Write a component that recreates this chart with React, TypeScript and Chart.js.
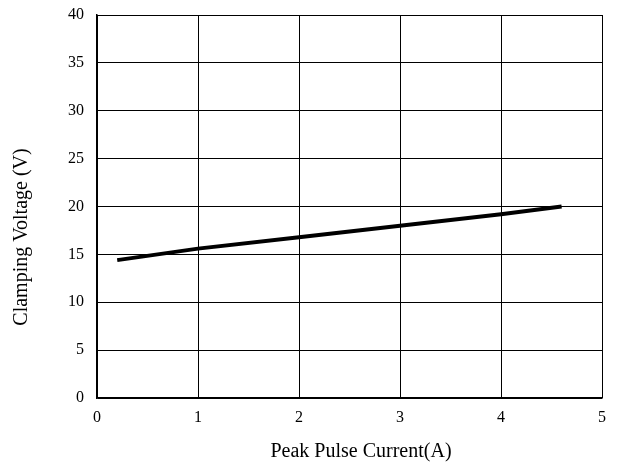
import React, { useEffect, useRef } from "react";
import { Chart, registerables } from "chart.js";

Chart.register(...registerables);

const currentA = [0.2, 1, 2, 3, 4, 4.6];
const clampingV = [14.4, 15.6, 16.8, 18.0, 19.2, 20.0];
const xTitle = "Peak Pulse Current(A)";
const yTitle = "Clamping Voltage (V)";

const family = "'Liberation Serif', 'Times New Roman', serif";

const titlePlugin = {
  id: "axisTitles",
  afterDraw(chart: any) {
    const ctx = chart.ctx;
    ctx.save();
    ctx.fillStyle = "#000";
    ctx.font = `20px ${family}`;
    ctx.textBaseline = "alphabetic";
    ctx.textAlign = "center";
    ctx.fillText(xTitle, 361, 457);
    ctx.translate(27, 237);
    ctx.rotate(-Math.PI / 2);
    ctx.fillText(yTitle, 0, 0);
    ctx.restore();
  },
};

export default function App() {
  const ref = useRef<HTMLCanvasElement | null>(null);
  useEffect(() => {
    if (!ref.current) return;
    const tickFont = { family, size: 16 };
    const chart = new Chart(ref.current, {
      type: "line",
      data: {
        datasets: [
          {
            data: currentA.map((x, i) => ({ x, y: clampingV[i] })),
            borderColor: "#000",
            borderWidth: 4,
            pointRadius: 0,
            tension: 0,
          },
        ],
      },
      options: {
        animation: false,
        responsive: false,
        layout: { padding: { top: 15, right: 18, left: 0, bottom: 0 } },
        plugins: { legend: { display: false }, tooltip: { enabled: false } },
        scales: {
          x: {
            type: "linear",
            min: 0,
            max: 5,
            ticks: { stepSize: 1, color: "#000", font: tickFont, padding: 10 },
            grid: { color: "#000", lineWidth: 1, drawTicks: false },
            border: { color: "#000", width: 1.5 },
            afterFit: (s: any) => {
              s.height = 65;
              s.paddingLeft = 0;
              s.paddingRight = 0;
            },
          },
          y: {
            type: "linear",
            min: 0,
            max: 40,
            ticks: { stepSize: 5, color: "#000", font: tickFont, padding: 13 },
            grid: { color: "#000", lineWidth: 1, drawTicks: false },
            border: { color: "#000", width: 1.5 },
            afterFit: (s: any) => {
              s.width = 97;
              s.paddingTop = 0;
              s.paddingBottom = 0;
            },
          },
        },
      },
      plugins: [titlePlugin],
    });
    return () => chart.destroy();
  }, []);
  return (
    <div style={{ position: "absolute", left: 0, top: 0, width: 620, height: 463, background: "#fff" }}>
      <canvas ref={ref} width={620} height={463} style={{ width: 620, height: 463 }} />
    </div>
  );
}
